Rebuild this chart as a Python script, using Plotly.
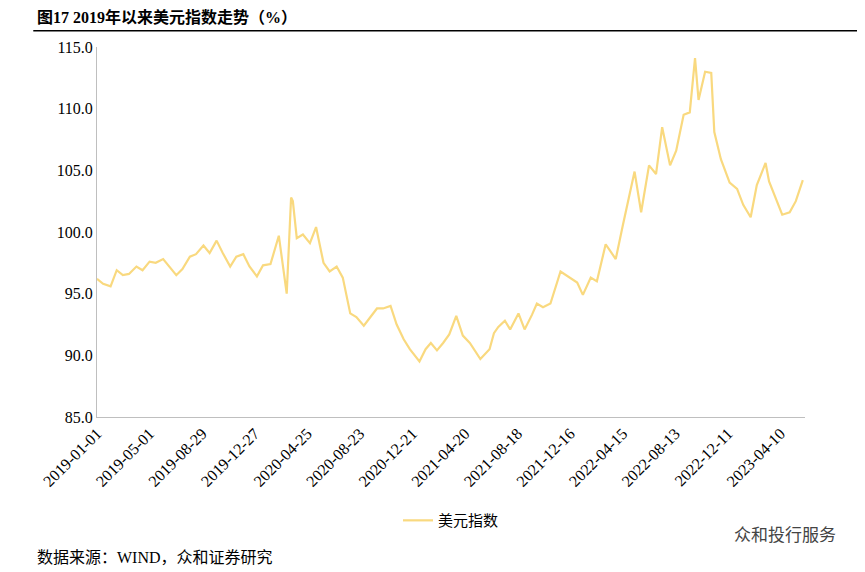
import plotly.graph_objects as go
from datetime import date, timedelta

dates = ["2019-01-01","2019-01-15","2019-02-01","2019-02-15","2019-03-01","2019-03-15","2019-04-01","2019-04-15",
"2019-05-01","2019-05-15","2019-06-01","2019-06-15","2019-07-01","2019-07-15","2019-08-01","2019-08-15",
"2019-09-01","2019-09-15","2019-10-01","2019-10-15","2019-11-01","2019-11-15","2019-12-01","2019-12-15",
"2020-01-01","2020-01-15","2020-02-01","2020-02-20","2020-03-09","2020-03-19","2020-03-23","2020-04-01",
"2020-04-15","2020-05-01","2020-05-15","2020-06-01","2020-06-15","2020-07-01","2020-07-15","2020-08-01",
"2020-08-15","2020-09-01","2020-09-15","2020-10-01","2020-10-15","2020-11-01","2020-11-15","2020-12-01",
"2020-12-15","2021-01-06","2021-01-20","2021-02-01","2021-02-15","2021-03-01","2021-03-15","2021-03-31",
"2021-04-15","2021-05-01","2021-05-25","2021-06-15","2021-06-25","2021-07-05","2021-07-20","2021-08-01",
"2021-08-20","2021-09-03","2021-09-20","2021-10-01","2021-10-15","2021-11-01","2021-11-24","2021-12-15",
"2022-01-01","2022-01-14","2022-02-01","2022-02-15","2022-03-07","2022-03-15","2022-03-30","2022-04-15",
"2022-05-12","2022-05-27","2022-06-14","2022-06-30","2022-07-14","2022-08-01","2022-08-15","2022-09-01",
"2022-09-15","2022-09-27","2022-10-05","2022-10-20","2022-11-03","2022-11-10","2022-11-25","2022-12-15",
"2023-01-01","2023-01-15","2023-02-01","2023-02-15","2023-03-07","2023-03-15","2023-04-01","2023-04-14",
"2023-05-01","2023-05-15","2023-05-31"]
values = [96.2,95.8,95.6,96.9,96.5,96.6,97.2,96.9,
97.6,97.5,97.8,97.2,96.5,97.0,98.0,98.2,
98.9,98.3,99.3,98.3,97.2,98.0,98.2,97.2,
96.4,97.3,97.4,99.7,95.0,102.8,102.5,99.5,
99.8,99.1,100.4,97.5,96.8,97.2,96.3,93.4,
93.1,92.4,93.1,93.8,93.8,94.0,92.5,91.3,
90.5,89.5,90.5,91.0,90.4,91.0,91.7,93.2,
91.6,91.0,89.7,90.5,91.8,92.3,92.8,92.1,
93.4,92.1,93.3,94.2,93.9,94.2,96.8,96.3,
95.9,94.9,96.3,96.0,99.0,98.6,97.8,100.5,
104.9,101.6,105.4,104.7,108.5,105.4,106.6,109.5,
109.7,114.1,110.7,113.0,112.9,108.1,105.9,104.0,
103.5,102.2,101.2,103.8,105.6,104.1,102.5,101.4,
101.6,102.5,104.2]

d0 = date(2019, 1, 1)
tickvals = [(d0 + timedelta(days=120*i)).isoformat() for i in range(14)]

fig = go.Figure(go.Scatter(x=dates, y=values, mode="lines", name="美元指数",
                           line=dict(color="#F9D97F", width=2.2)))
font = "Liberation Serif, Noto Sans CJK SC"
fig.update_layout(
    width=865, height=572, paper_bgcolor="white", plot_bgcolor="white",
    margin=dict(l=89, r=68, t=39, b=163),
    font=dict(family=font, size=15, color="#000"),
    xaxis=dict(type="date", range=["2019-01-01", "2023-06-05"], tickvals=tickvals,
               tickformat="%Y-%m-%d", tickangle=-45, showgrid=False, showline=True,
               linecolor="#BFBFBF", ticks="", tickfont=dict(size=16)),
    yaxis=dict(range=[85, 115], dtick=5, tickformat=".1f", showgrid=False, showline=True,
               linecolor="#BFBFBF", ticks="", tickfont=dict(size=16)),
    showlegend=True,
    legend=dict(orientation="h", x=0.5, xanchor="center", y=-0.28, yanchor="middle",
                font=dict(size=15)),
    shapes=[dict(type="line", xref="paper", yref="paper", x0=-0.09, x1=1.08, y0=1.044, y1=1.044,
                 line=dict(color="#000", width=1.5))],
    annotations=[
        dict(text="<b>图17 2019年以来美元指数走势（%）</b>", xref="paper", yref="paper",
             x=-0.088, y=1.05, xanchor="left", yanchor="bottom", showarrow=False, font=dict(size=16)),
        dict(text="数据来源：WIND，众和证券研究", xref="paper", yref="paper",
             x=-0.088, y=-0.38, xanchor="left", yanchor="middle", showarrow=False, font=dict(size=16)),
        dict(text="众和投行服务", xref="paper", yref="paper",
             x=1.047, y=-0.32, xanchor="right", yanchor="middle", showarrow=False,
             font=dict(size=17, color="#444")),
    ],
)
fig.write_html("out.html")
